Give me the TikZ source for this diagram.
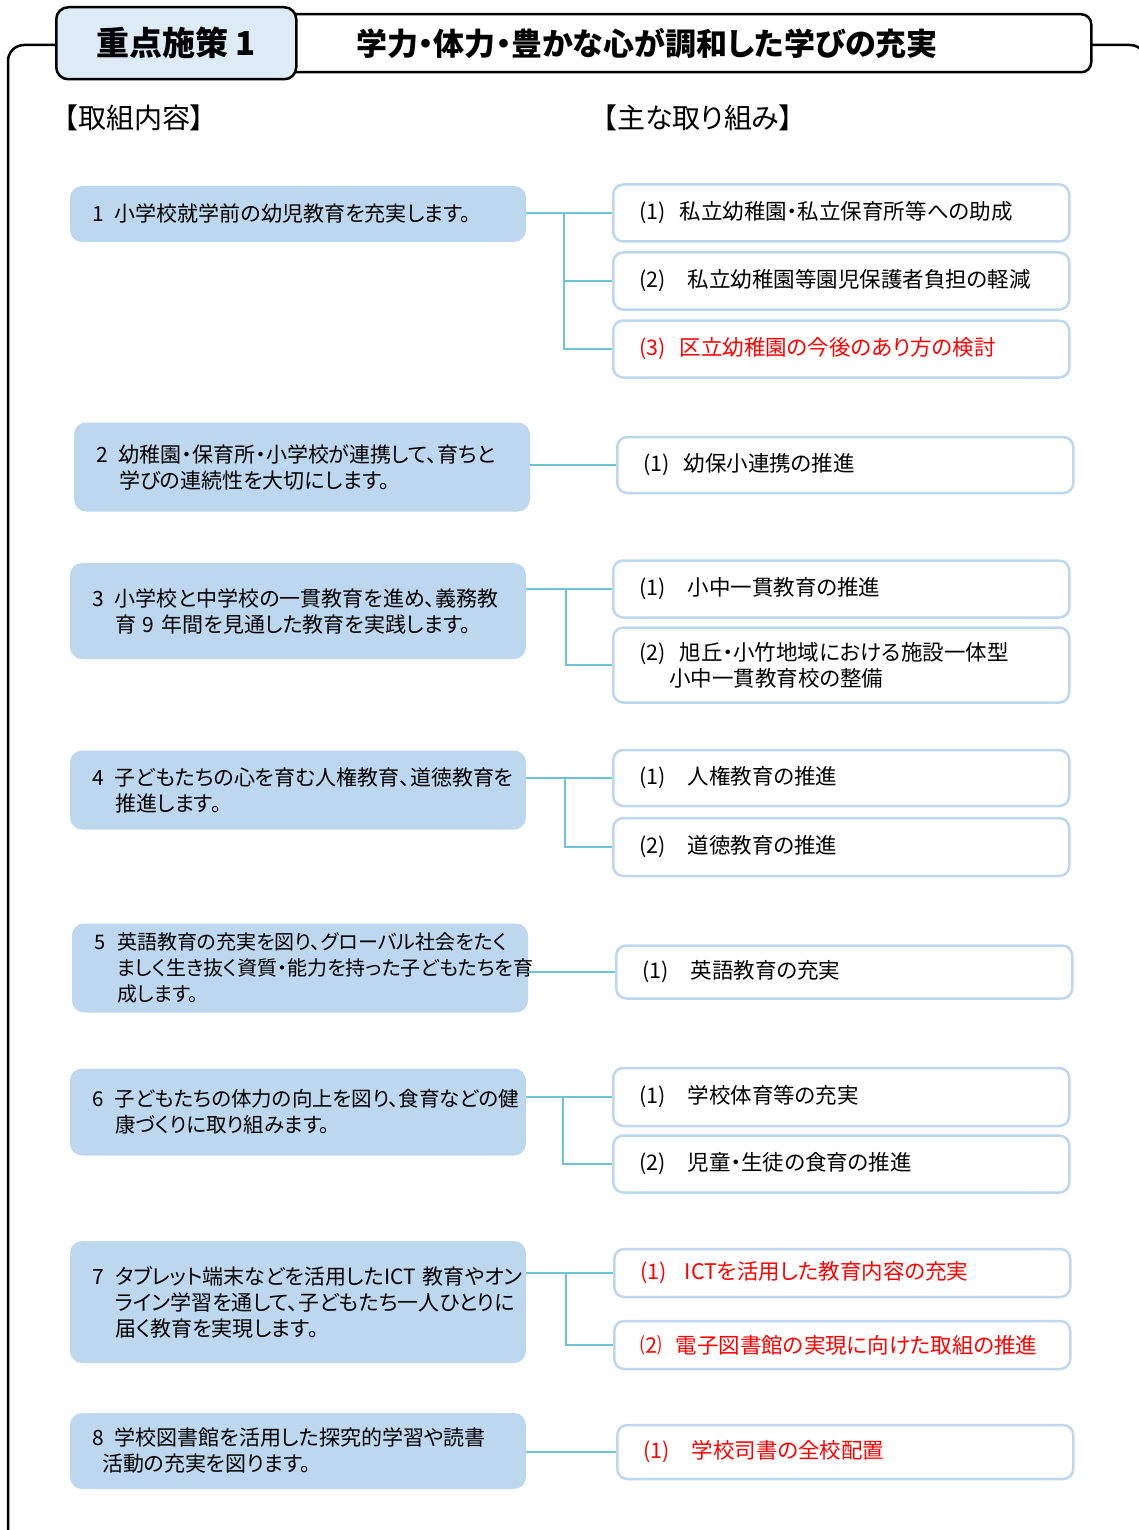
\documentclass[tikz,border=0pt]{standalone}
\usepackage{fontspec}
\setmainfont{Noto Sans CJK JP}[RawFeature=+palt]
\usetikzlibrary{calc}
\definecolor{aimblue}{HTML}{BDD7EE}
\definecolor{headblue}{HTML}{DDEBF7}
\definecolor{actline}{HTML}{BDD7EE}
\definecolor{linkcyan}{HTML}{6CC4D4}
\definecolor{planred}{HTML}{FF0000}
\newcommand{\aimno}[1]{\makebox[23pt][l]{#1}}
\newcommand{\aimin}{\hspace*{23pt}}

\begin{document}
\begin{tikzpicture}[x=1pt,y=-1pt,
  frameline/.style={line width=2.5pt,black},
  headbox/.style={draw=black,line width=2.5pt,rounded corners=12pt},
  aimbox/.style={fill=aimblue,rounded corners=12pt,inner xsep=22pt,inner ysep=0pt,text width=412pt,align=left,font=\fontsize{21}{26}\selectfont},
  actbox/.style={draw=actline,fill=white,line width=2.5pt,rounded corners=10pt,inner xsep=26pt,inner ysep=0pt,text width=404pt,align=left,anchor=west,font=\fontsize{21.5}{26}\selectfont},
  link/.style={draw=linkcyan,line width=2pt},
  colhead/.style={font=\fontsize{28}{32}\selectfont,inner sep=0pt,anchor=west}]
\useasboundingbox (0,0) rectangle (1139,1530);
\clip (0,0) rectangle (1139,1530);
% draw outer frame
\draw[frameline,rounded corners=16pt] (8,45) rectangle (1146,1570);
% draw title
\node[headbox,fill=white,rounded corners=10pt,minimum height=58pt,anchor=north west,inner xsep=75pt,text width=660pt,align=left,font=\fontsize{31}{34}\selectfont\bfseries] (theme) at (280,13) {\raisebox{3pt}{学力・体力・豊かな心が調和した学びの充実}};
\node[headbox,fill=headblue,minimum width=240pt,minimum height=72pt,anchor=north west,font=\fontsize{33}{36}\selectfont\bfseries] (policy) at (55,6) {重点施策 1};
% draw column headings
\node[colhead] (aimhead) at (64,118) {【取組内容】};
\node[colhead] (acthead) at (603,118) {【主な取り組み】};
% draw aims
\node[aimbox,minimum height=56pt] (aim1) at (298,214) {\aimno{1}小学校就学前の幼児教育を充実します。};
\node[aimbox,minimum height=89pt] (aim2) at (302,467) {\aimno{2}幼稚園・保育所・小学校が連携して、育ちと\\\aimin 学びの連続性を大切にします。};
\node[aimbox,minimum height=96pt] (aim3) at (298,611) {\aimno{3}小学校と中学校の一貫教育を進め、義務教\\\aimin 育 9 年間を見通した教育を実践します。};
\node[aimbox,minimum height=79pt] (aim4) at (298,790) {\aimno{4}子どもたちの心を育む人権教育、道徳教育を\\\aimin 推進します。};
\node[aimbox,minimum height=89pt,font=\fontsize{20}{26}\selectfont] (aim5) at (300,968) {\aimno{5}英語教育の充実を図り、グローバル社会をたく\\\aimin ましく生き抜く資質・能力を持った子どもたちを育\\\aimin 成します。};
\node[aimbox,minimum height=87pt,font=\fontsize{20.5}{26}\selectfont] (aim6) at (298,1112) {\aimno{6}子どもたちの体力の向上を図り、食育などの健\\\aimin 康づくりに取り組みます。};
\node[aimbox,minimum height=122pt] (aim7) at (298,1302) {\aimno{7}タブレット端末などを活用したICT~教育やオン\\\aimin ライン学習を通して、子どもたち一人ひとりに\\\aimin 届く教育を実現します。};
\node[aimbox,minimum height=76pt] (aim8) at (298,1451) {\aimno{8}学校図書館を活用した探究的学習や読書\\\hspace*{10pt}活動の充実を図ります。};
% draw actions
\node[actbox,minimum height=57pt] (act11) at (612,213) {(1)\hspace{14pt}私立幼稚園・私立保育所等への助成};
\node[actbox,minimum height=57pt] (act12) at (612,281) {(2)\hspace{22pt}私立幼稚園等園児保護者負担の軽減};
\node[actbox,minimum height=57pt,text=planred] (act13) at (612,349) {(3)\hspace{14pt}区立幼稚園の今後のあり方の検討};
\node[actbox,minimum height=56pt] (act21) at (616,465) {(1)\hspace{14pt}幼保小連携の推進};
\node[actbox,minimum height=57pt] (act31) at (612,589) {(1)\hspace{22pt}小中一貫教育の推進};
\node[actbox,minimum height=75pt] (act32) at (612,665) {(2)\hspace{14pt}旭丘・小竹地域における施設一体型\\\hspace*{30pt}小中一貫教育校の整備};
\node[actbox,minimum height=56pt] (act41) at (612,778) {(1)\hspace{22pt}人権教育の推進};
\node[actbox,minimum height=58pt] (act42) at (612,847) {(2)\hspace{22pt}道徳教育の推進};
\node[actbox,minimum height=53pt] (act51) at (615,972) {(1)\hspace{22pt}英語教育の充実};
\node[actbox,minimum height=58pt] (act61) at (612,1097) {(1)\hspace{22pt}学校体育等の充実};
\node[actbox,minimum height=57pt] (act62) at (612,1164) {(2)\hspace{22pt}児童・生徒の食育の推進};
\node[actbox,minimum height=48pt,text=planred] (act71) at (613,1273) {(1)\hspace{18pt}ICTを活用した教育内容の充実};
\node[actbox,minimum height=48pt,text=planred] (act72) at (613,1345) {⑵\hspace{14pt}電子図書館の実現に向けた取組の推進};
\node[actbox,minimum height=54pt,text=planred] (act81) at (616,1452) {(1)\hspace{22pt}学校司書の全校配置};
% draw links
\coordinate (j1) at ($(aim1.east |- act11.west)+(38,0)$);
\draw[link] (aim1.east |- act11.west) -- (act11.west);
\draw[link] (j1) |- (act12.west);
\draw[link] (j1) |- (act13.west);
\draw[link] (aim2.east |- act21.west) -- (act21.west);
\coordinate (j3) at ($(aim3.east |- act31.west)+(40,0)$);
\draw[link] (aim3.east |- act31.west) -- (act31.west);
\draw[link] (j3) |- (act32.west);
\coordinate (j4) at ($(aim4.east |- act41.west)+(39,0)$);
\draw[link] (aim4.east |- act41.west) -- (act41.west);
\draw[link] (j4) |- (act42.west);
\draw[link] (aim5.east |- act51.west) -- (act51.west);
\coordinate (j6) at ($(aim6.east |- act61.west)+(37,0)$);
\draw[link] (aim6.east |- act61.west) -- (act61.west);
\draw[link] (j6) |- (act62.west);
\coordinate (j7) at ($(aim7.east |- act71.west)+(40,0)$);
\draw[link] (aim7.east |- act71.west) -- (act71.west);
\draw[link] (j7) |- (act72.west);
\draw[link] (aim8.east |- act81.west) -- (act81.west);
\end{tikzpicture}
\end{document}
